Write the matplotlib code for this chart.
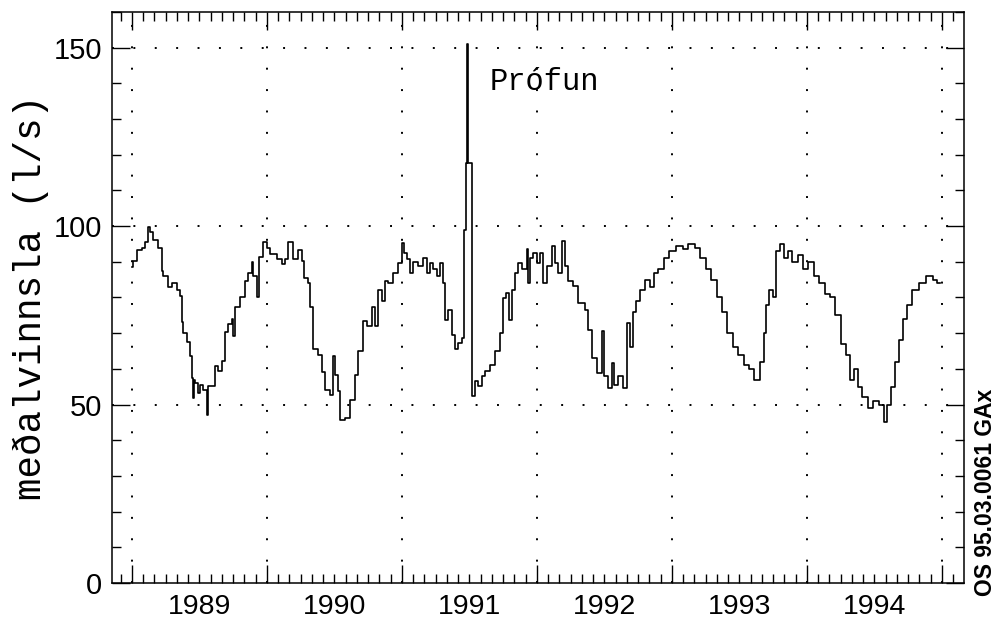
import matplotlib
matplotlib.use("Agg")
import matplotlib.pyplot as plt
import matplotlib.transforms as mtransforms
import numpy as np

# ---- data: step series (start of each step in decimal years, value in l/s)
step_start = [
    1989.000, 1989.010, 1989.035, 1989.072, 1989.096, 1989.121, 1989.133, 1989.158,
    1989.195, 1989.220, 1989.232, 1989.269, 1989.294, 1989.331, 1989.356, 1989.368,
    1989.380, 1989.405, 1989.430, 1989.442, 1989.450, 1989.458, 1989.467, 1989.491,
    1989.504, 1989.528, 1989.553, 1989.565, 1989.615, 1989.640, 1989.664, 1989.689,
    1989.714, 1989.738, 1989.751, 1989.763, 1989.800, 1989.837, 1989.862, 1989.886,
    1989.899, 1989.923, 1989.943, 1989.973, 1989.998, 1990.022, 1990.072, 1990.109,
    1990.133, 1990.158, 1990.190, 1990.232, 1990.257, 1990.274, 1990.306, 1990.319,
    1990.343, 1990.380, 1990.405, 1990.430, 1990.467, 1990.486, 1990.504, 1990.528,
    1990.541, 1990.578, 1990.615, 1990.652, 1990.677, 1990.714, 1990.738, 1990.775,
    1990.800, 1990.825, 1990.849, 1990.874, 1990.899, 1990.936, 1990.973, 1990.998,
    1991.015, 1991.035, 1991.059, 1991.084, 1991.121, 1991.158, 1991.183, 1991.207,
    1991.232, 1991.257, 1991.281, 1991.301, 1991.318, 1991.343, 1991.368, 1991.393,
    1991.417, 1991.442, 1991.459, 1991.476, 1991.482, 1991.489, 1991.516, 1991.541,
    1991.565, 1991.590, 1991.615, 1991.652, 1991.689, 1991.726, 1991.751, 1991.770,
    1991.795, 1991.812, 1991.837, 1991.862, 1991.886, 1991.923, 1991.935, 1991.948,
    1991.973, 1991.998, 1992.022, 1992.042, 1992.071, 1992.109, 1992.133, 1992.158,
    1992.183, 1992.207, 1992.232, 1992.269, 1992.306, 1992.355, 1992.380, 1992.405,
    1992.442, 1992.479, 1992.496, 1992.528, 1992.553, 1992.570, 1992.602, 1992.639,
    1992.664, 1992.690, 1992.710, 1992.730, 1992.760, 1992.800, 1992.840, 1992.870,
    1992.900, 1992.940, 1992.980, 1993.030, 1993.080, 1993.120, 1993.170, 1993.210,
    1993.250, 1993.290, 1993.330, 1993.370, 1993.410, 1993.450, 1993.490, 1993.530,
    1993.570, 1993.610, 1993.650, 1993.680, 1993.700, 1993.720, 1993.750, 1993.770,
    1993.800, 1993.830, 1993.860, 1993.890, 1993.930, 1993.970, 1994.010, 1994.050,
    1994.090, 1994.130, 1994.170, 1994.210, 1994.250, 1994.290, 1994.320, 1994.350,
    1994.380, 1994.410, 1994.450, 1994.490, 1994.530, 1994.570, 1994.590, 1994.620,
    1994.650, 1994.680, 1994.710, 1994.740, 1994.780, 1994.830, 1994.880, 1994.930,
    1994.960,
]
flow = [
    88.5, 90.3, 93.2, 94.0, 95.5, 99.7, 98.3, 96.0,
    94.0, 87.5, 86.0, 83.0, 84.0, 82.0, 80.5, 73.0,
    70.0, 67.5, 63.6, 57.5, 51.9, 57.0, 56.0, 53.3,
    55.6, 54.2, 47.2, 55.2, 60.8, 59.4, 62.2, 70.2,
    72.5, 74.0, 69.2, 77.2, 80.0, 84.7, 87.0, 89.9,
    86.0, 80.0, 91.3, 95.5, 94.0, 92.2, 90.8, 89.4,
    90.8, 95.5, 90.8, 93.2, 90.3, 85.6, 84.2, 77.2,
    65.5, 64.0, 59.0, 54.2, 52.8, 63.6, 58.4, 53.8,
    45.8, 46.2, 51.4, 58.4, 65.0, 73.4, 72.0, 77.2,
    72.0, 82.0, 79.0, 84.7, 84.0, 87.0, 89.7, 95.3,
    92.5, 90.7, 87.0, 90.0, 88.8, 91.0, 87.0, 89.7,
    87.9, 86.0, 89.7, 84.0, 73.8, 76.6, 69.6, 65.7,
    67.3, 68.7, 99.0, 117.8, 151.0, 117.8, 52.3, 56.5,
    55.1, 57.9, 59.3, 61.2, 65.0, 70.0, 79.9, 81.3,
    73.8, 82.0, 86.9, 89.7, 88.0, 93.5, 84.0, 91.0,
    92.5, 89.7, 92.5, 84.0, 88.8, 94.4, 89.7, 87.0,
    95.8, 88.8, 84.6, 83.2, 78.5, 76.6, 71.0, 63.0,
    58.9, 70.6, 58.0, 54.7, 61.7, 55.6, 58.0, 54.7,
    72.9, 66.0, 76.0, 79.0, 82.0, 85.0, 83.0, 87.0,
    88.0, 91.0, 93.0, 94.5, 93.5, 95.0, 94.0, 91.0,
    88.0, 85.0, 80.0, 76.0, 70.0, 66.0, 64.0, 61.0,
    60.0, 57.0, 62.0, 70.0, 78.0, 82.0, 80.0, 93.0,
    95.0, 91.0, 93.0, 90.0, 92.0, 88.0, 90.0, 86.0,
    84.0, 81.0, 80.0, 75.0, 67.0, 64.0, 57.0, 60.0,
    55.0, 52.0, 49.0, 51.0, 50.0, 45.0, 50.0, 55.0,
    62.0, 68.0, 74.0, 78.0, 82.0, 84.0, 86.0, 85.0,
    84.0,
]
series_end = 1994.985

years = [1989, 1990, 1991, 1992, 1993, 1994]
year_labels = ["1989", "1990", "1991", "1992", "1993", "1994"]
annotation = "Prófun"
y_label = "meðalvinnsla (l/s)"
stamp = "OS 95.03.0061 GAx"

# ---- figure
fig = plt.figure(figsize=(10.0, 6.21), dpi=100)
ax = fig.add_axes([0.112, 0.0612, 0.852, 0.9195])

x = list(step_start) + [series_end]
y = list(flow) + [flow[-1]]
ax.step(x, y, where="post", color="black", lw=1.2)

ax.set_xlim(1988.852, 1995.163)
ax.set_ylim(0, 160)

# grid (dotted)
grid_style = dict(color="black", lw=1.4, linestyle=(0, (1, 10)))
for gx in range(1989, 1996):
    ax.axvline(gx, **grid_style, zorder=0)
for gy in (50, 100, 150):
    ax.axhline(gy, **grid_style, zorder=0)

# ticks
ax.set_xticks(np.arange(1989, 1996))
ax.set_xticklabels([])
ax.set_xticks(np.arange(1988 + 11 / 12, 1995.1, 1 / 12), minor=True)
ax.set_yticks([0, 50, 100, 150])
ax.set_yticks(np.arange(0, 161, 10), minor=True)
ax.tick_params(axis="both", which="both", direction="in", top=True, right=True,
               width=1.0, color="black")
ax.tick_params(axis="both", which="major", length=13)
ax.tick_params(axis="both", which="minor", length=6.5)
ax.tick_params(axis="y", which="major", labelsize=21, pad=7)
for lab in ax.get_yticklabels():
    lab.set_family("Liberation Sans")

trans = mtransforms.blended_transform_factory(ax.transData, ax.transAxes)
for yr, lab in zip(years, year_labels):
    ax.text(yr + 0.5, -0.0545, lab, transform=trans, ha="center", va="baseline",
            fontsize=20.5, family="Liberation Sans")

for sp in ax.spines.values():
    sp.set_linewidth(1.1)

ax.set_ylabel(y_label, fontsize=27, family="Liberation Mono", va="center")
ax.yaxis.set_label_coords(-0.095, 0.5)

ax.text(1991.652, 138, annotation, fontsize=22, family="Liberation Mono",
        ha="left", va="baseline")

fig.text(0.985, 1 - 492 / 621, stamp, rotation=90, ha="center", va="center",
         fontsize=16.5, family="Liberation Sans", fontweight="bold")

fig.savefig("out.png", dpi=100)
